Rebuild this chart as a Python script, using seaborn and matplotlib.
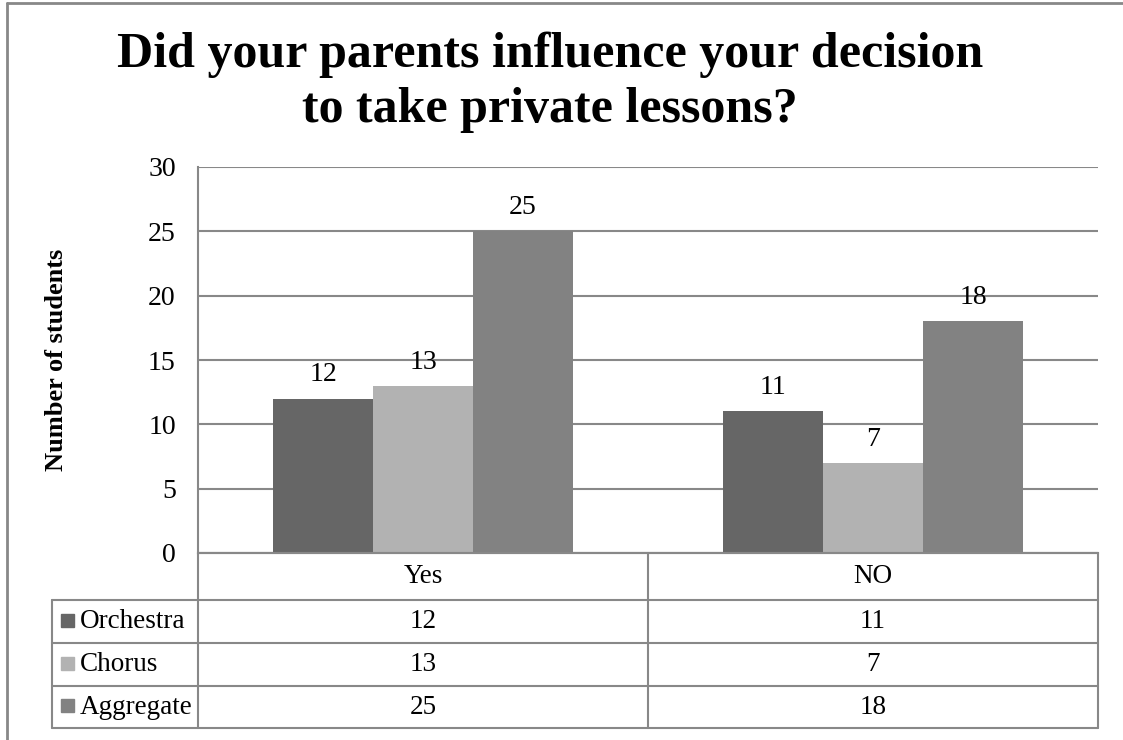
import numpy as np
import pandas as pd
import matplotlib
matplotlib.use("Agg")
import matplotlib.pyplot as plt
import seaborn as sns

# ---------------- data ----------------
answers = ["Yes", "NO"]
groups = ["Orchestra", "Chorus", "Aggregate"]
orchestra = [12, 11]
chorus = [13, 7]
aggregate = [25, 18]
colors = ["#666666", "#b2b2b2", "#828282"]

df = pd.DataFrame({
    "answer": answers * 3,
    "group": sum([[g] * 2 for g in groups], []),
    "students": orchestra + chorus + aggregate,
})

sns.set_theme(style="white")
plt.rcParams["font.family"] = ["Liberation Serif", "DejaVu Serif"]
plt.rcParams["text.color"] = "black"

W, H = 1123, 740
fig = plt.figure(figsize=(W / 100, H / 100), dpi=100)
grid_c = "#888888"
fs = 20

# main plot area (pixel coords -> figure fraction)
x0, x1, ytop, ybot = 198, 1098, 167, 553
ax = fig.add_axes([x0 / W, 1 - ybot / H, (x1 - x0) / W, (ybot - ytop) / H])
sns.barplot(data=df, x="answer", y="students", hue="group", hue_order=groups,
            palette=colors, width=2 / 3, saturation=1, linewidth=0,
            ax=ax, legend=False)
ax.set_ylim(0, 30)
ax.set_xlim(-0.5, 1.5)
ax.set_yticks(range(0, 31, 5))
ax.tick_params(axis="y", labelsize=fs, length=0, pad=16, colors="black")
ax.set_xticks([])
ax.set_xlabel("")
ax.set_ylabel("Number of students", fontsize=19, fontweight="bold", color="black")
ax.yaxis.set_label_coords((68 - x0) / (x1 - x0), 0.5)
ax.grid(axis="y", color=grid_c, linewidth=1.5)
ax.set_axisbelow(True)
for s in ["top", "right"]:
    ax.spines[s].set_visible(False)
for s in ["left", "bottom"]:
    ax.spines[s].set_color(grid_c)
    ax.spines[s].set_linewidth(1.5)
for cont in ax.containers:
    ax.bar_label(cont, fontsize=fs, padding=8, color="black")

# title, two centred lines
fig.text(550 / W, 1 - 67 / H, "Did your parents influence your decision",
         fontsize=36, fontweight="bold", ha="center", va="baseline")
fig.text(550 / W, 1 - 122 / H, "to take private lessons?",
         fontsize=36, fontweight="bold", ha="center", va="baseline")

# data table under the chart
tab = fig.add_axes([0, 0, 1, 1])
tab.set_xlim(0, W)
tab.set_ylim(H, 0)
tab.axis("off")
lw = 1.5
xl, xm = 52, 648
rows = [553, 600, 643, 686, 728]
tab.plot([x0, x1], [rows[0], rows[0]], color=grid_c, lw=lw)
for y in rows[1:]:
    tab.plot([xl, x1], [y, y], color=grid_c, lw=lw)
tab.plot([x0, x0], [rows[0], rows[-1]], color=grid_c, lw=lw)
tab.plot([xm, xm], [rows[0], rows[-1]], color=grid_c, lw=lw)
tab.plot([x1, x1], [rows[0], rows[-1]], color=grid_c, lw=lw)
tab.plot([xl, xl], [rows[1], rows[-1]], color=grid_c, lw=lw)

cx = [(x0 + xm) / 2, (xm + x1) / 2]
tfs = 19.5
for j, a in enumerate(answers):
    tab.text(cx[j], (rows[0] + rows[1]) / 2, a, fontsize=tfs, ha="center", va="center")
series = [orchestra, chorus, aggregate]
for i, g in enumerate(groups):
    yc = (rows[i + 1] + rows[i + 2]) / 2
    tab.add_patch(plt.Rectangle((61, yc - 8), 13, 13, color=colors[i]))
    tab.text(80, yc, g, fontsize=tfs, ha="left", va="center")
    for j in range(2):
        tab.text(cx[j], yc, str(series[i][j]), fontsize=tfs, ha="center", va="center")

# outer frame (cropped page)
tab.plot([7, W], [3, 3], color=grid_c, lw=2)
tab.plot([7, 7], [3, H], color=grid_c, lw=2)

fig.savefig("out.png", dpi=100)
